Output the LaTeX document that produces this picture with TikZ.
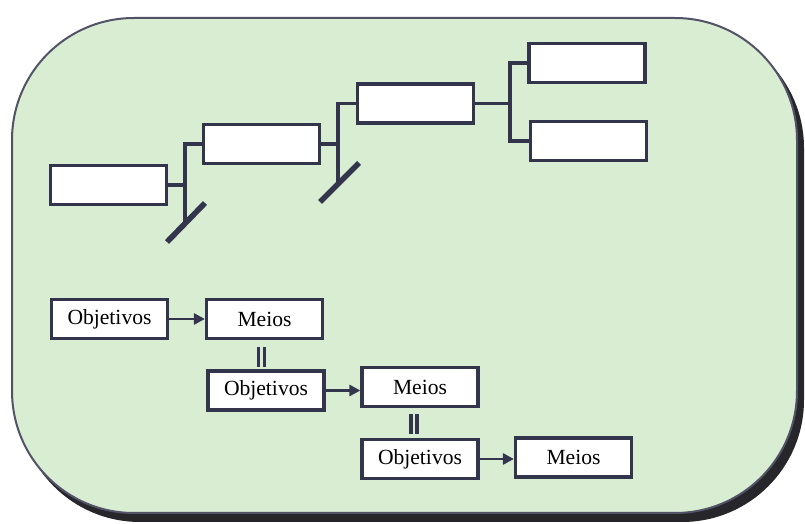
\documentclass[tikz,border=0pt]{standalone}
\usepackage{fontspec}
\setmainfont{Liberation Serif}
\usetikzlibrary{arrows.meta, calc}
\definecolor{panelgreen}{HTML}{D9EDD3}
\definecolor{inkslate}{HTML}{33354C}
\definecolor{shadowgray}{HTML}{26262B}
\tikzset{
  blankbox/.style={draw=inkslate,line width=1.6pt,fill=white,minimum width=58pt,minimum height=19.5pt,inner sep=0pt},
  wordbox/.style={blankbox,font=\fontsize{10.8}{12}\selectfont},
  branch/.style={draw=inkslate,line width=1.7pt,line cap=rect},
  stem/.style={draw=inkslate,line width=2.8pt},
  goesto/.style={-{Triangle[length=5.5pt,width=5.5pt]},draw=inkslate,line width=1.4pt},
  eqbar/.style={draw=inkslate,line width=1.8pt},
}

\begin{document}
\begin{tikzpicture}[x=0.5pt,y=-0.5pt]
  \useasboundingbox (0,0) rectangle (805,524);
  % panel with its drop shadow
  \fill[shadowgray,rounded corners=61pt] (18,26) rectangle (804,522);
  \draw[fill=panelgreen,draw=inkslate!85,line width=1pt,rounded corners=61pt] (12,18) rectangle (797,513);

  % top: empty boxes joined by branches
  \node[blankbox] (nA) at (108.5,185) {};
  \node[blankbox] (nB) at (261.5,144) {};
  \node[blankbox] (nC) at (415.5,103.5) {};
  \node[blankbox] (nD) at (587,63) {};
  \node[blankbox] (nE) at (588.5,141) {};

  \coordinate (kAtop) at (185,144);
  \coordinate (kAbot) at (185,222);
  \coordinate (sAlo) at (167,242);
  \coordinate (sAhi) at (205,203);
  \draw[branch] (nA.east) -- (nA.east -| kAtop);
  \draw[branch] (kAbot) -- (kAtop) -- (nB.west);
  \draw[stem] (sAlo) -- (sAhi);

  \coordinate (kBtop) at (338,103.5);
  \coordinate (kBbot) at (338,182);
  \coordinate (sBlo) at (320,202);
  \coordinate (sBhi) at (359,163);
  \draw[branch] (nB.east) -- (nB.east -| kBtop);
  \draw[branch] (kBbot) -- (kBtop) -- (nC.west);
  \draw[stem] (sBlo) -- (sBhi);

  \coordinate (kCtop) at (510,63);
  \coordinate (kCbot) at (510,141);
  \draw[branch] (nC.east) -- (nC.east -| kCtop);
  \draw[branch] (nD.west) -- (kCtop) -- (kCbot) -- (nE.west);

  % bottom: objetivos / meios staircase
  \node[wordbox] (nO1) at (109.5,319) {Objetivos};
  \node[wordbox] (nM1) at (264.5,319) {Meios};
  \node[wordbox] (nO2) at (266,390.5) {Objetivos};
  \node[wordbox] (nM2) at (420,387) {Meios};
  \node[wordbox] (nO3) at (420,459) {Objetivos};
  \node[wordbox] (nM3) at (573.5,457.5) {Meios};

  \draw[goesto] (nO1.east) -- (nM1.west);
  \draw[goesto] (nO2.east) -- (nO2.east -| nM2.west);
  \draw[goesto] (nO3.east) -- (nO3.east -| nM3.west);

  \foreach \dx in {-6,0} {
    \draw[eqbar] ($(nM1.south)+(\dx,7)$) -- ($(nM1.south)+(\dx,27)$);
    \draw[eqbar] ($(nM2.south)+(\dx-3,6)$) -- ($(nM2.south)+(\dx-3,26)$);
  }
\end{tikzpicture}
\end{document}
